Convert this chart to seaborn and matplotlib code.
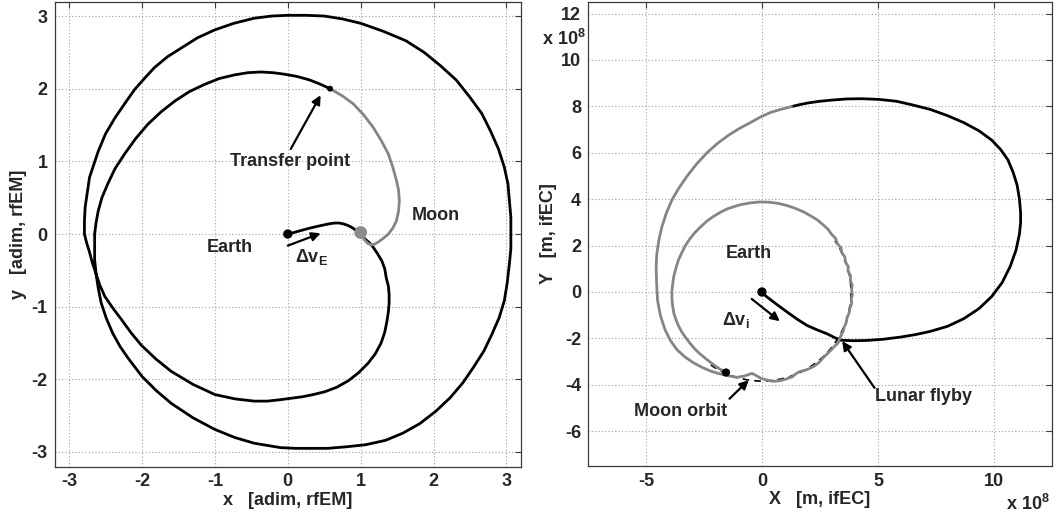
import matplotlib
matplotlib.use("Agg")
import matplotlib.pyplot as plt
from matplotlib.patches import Arc
import seaborn as sns
import pandas as pd

# ---------------- rotating Earth-Moon frame (adimensional) ----------------
# Earth departure spiral up to the transfer point
ROT_BLACK_X = [0.00, 0.08, 0.17, 0.26, 0.36, 0.45, 0.54, 0.63, 0.70, 0.76, 0.82, 0.88, 0.93,
               0.97, 1.02, 1.06, 1.12, 1.17, 1.23, 1.29, 1.33, 1.35, 1.38, 1.39, 1.39, 1.38,
               1.36, 1.33, 1.28, 1.20, 1.10, 0.97, 0.83, 0.67, 0.51, 0.35, 0.20, 0.05, -0.10,
               -0.28, -0.46, -0.72, -1.00, -1.30, -1.60, -1.81, -2.01, -2.15, -2.28, -2.40,
               -2.51, -2.58, -2.63, -2.68, -2.72, -2.76, -2.79, -2.79, -2.78, -2.72, -2.60,
               -2.50, -2.37, -2.22, -2.10, -1.95, -1.83, -1.65, -1.46, -1.24, -1.00, -0.74,
               -0.46, -0.22, 0.00, 0.25, 0.50, 0.75, 1.00, 1.31, 1.62, 1.87, 2.09, 2.31, 2.50,
               2.66, 2.78, 2.89, 2.97, 3.02, 3.04, 3.06, 3.06, 3.06, 3.04, 3.01, 2.97, 2.90,
               2.80, 2.69, 2.55, 2.40, 2.23, 2.03, 1.81, 1.58, 1.34, 1.07, 0.79, 0.54, 0.30,
               0.10, -0.10, -0.46, -0.73, -1.00, -1.30, -1.60, -1.80, -2.00, -2.19, -2.30,
               -2.40, -2.49, -2.56, -2.60, -2.63, -2.65, -2.65, -2.65, -2.63, -2.60, -2.55,
               -2.47, -2.37, -2.24, -2.09, -1.92, -1.74, -1.55, -1.35, -1.14, -0.94, -0.73,
               -0.55, -0.37, -0.20, -0.05, 0.12, 0.30, 0.45, 0.58]
ROT_BLACK_Y = [0.00, 0.02, 0.045, 0.07, 0.095, 0.115, 0.135, 0.15, 0.152, 0.14, 0.12, 0.09,
               0.055, 0.02, -0.025, -0.07, -0.12, -0.18, -0.27, -0.37, -0.48, -0.60, -0.72,
               -0.83, -0.95, -1.07, -1.20, -1.35, -1.50, -1.65, -1.78, -1.91, -2.02, -2.11,
               -2.17, -2.21, -2.24, -2.26, -2.28, -2.30, -2.30, -2.27, -2.21, -2.07, -1.89,
               -1.72, -1.53, -1.36, -1.18, -1.02, -0.86, -0.70, -0.55, -0.40, -0.25, -0.12,
               0.00, 0.18, 0.37, 0.78, 1.14, 1.38, 1.60, 1.82, 1.99, 2.16, 2.29, 2.44, 2.56,
               2.70, 2.81, 2.90, 2.97, 3.00, 3.01, 3.01, 3.00, 2.96, 2.90, 2.79, 2.66, 2.50,
               2.32, 2.12, 1.88, 1.66, 1.42, 1.17, 0.92, 0.69, 0.46, 0.23, 0.00, -0.20, -0.41,
               -0.67, -0.92, -1.15, -1.38, -1.61, -1.83, -2.05, -2.25, -2.44, -2.61, -2.74,
               -2.84, -2.90, -2.93, -2.95, -2.95, -2.95, -2.94, -2.88, -2.80, -2.69, -2.53,
               -2.33, -2.16, -1.96, -1.71, -1.55, -1.37, -1.16, -0.95, -0.75, -0.55, -0.35,
               -0.20, 0.00, 0.16, 0.32, 0.50, 0.69, 0.90, 1.10, 1.31, 1.51, 1.68, 1.83, 1.96,
               2.06, 2.14, 2.19, 2.22, 2.23, 2.22, 2.20, 2.17, 2.12, 2.06, 2.00]
# Capture leg from the transfer point to the Moon
ROT_GRAY_X = [0.58, 0.75, 0.90, 1.04, 1.17, 1.28, 1.38, 1.44, 1.49, 1.52, 1.53, 1.52, 1.49,
              1.44, 1.38, 1.31, 1.24, 1.19, 1.15, 1.10, 1.06, 1.01]
ROT_GRAY_Y = [2.00, 1.90, 1.79, 1.64, 1.47, 1.29, 1.10, 0.92, 0.74, 0.60, 0.46, 0.32, 0.18,
              0.08, 0.00, -0.06, -0.11, -0.14, -0.15, -0.13, -0.09, -0.02]
ROT_EARTH = (0.0, 0.0)
ROT_MOON = (1.0, 0.02)
ROT_TRANSFER = (0.58, 2.0)
ROT_TICKS = [-3, -2, -1, 0, 1, 2, 3]

# ---------------- Earth-centred inertial frame (units of 1e8 m) ----------------
IN_BLACK_X = [0.00, 0.10, 0.25, 0.50, 0.78, 1.08, 1.50, 1.94, 2.37, 2.80, 3.10, 3.38, 3.90,
              4.50, 5.20, 6.00, 6.60, 7.25, 8.00, 8.70, 9.35, 9.90, 10.35, 10.70, 10.95, 11.10,
              11.15, 11.15, 11.10, 11.00, 10.83, 10.60, 10.28, 9.90, 9.35, 8.70, 8.00, 7.25,
              6.50, 5.80, 5.05, 4.30, 3.65, 3.00, 2.50, 2.00, 1.60, 1.28]
IN_BLACK_Y = [0.00, -0.12, -0.24, -0.43, -0.64, -0.86, -1.16, -1.44, -1.63, -1.80, -1.95,
              -2.08, -2.10, -2.09, -2.04, -1.94, -1.84, -1.70, -1.48, -1.15, -0.72, -0.20,
              0.40, 1.10, 1.80, 2.50, 3.00, 3.40, 4.00, 4.60, 5.15, 5.70, 6.15, 6.55, 6.95,
              7.30, 7.60, 7.87, 8.06, 8.22, 8.30, 8.33, 8.32, 8.27, 8.22, 8.15, 8.07, 7.99]
IN_GRAY_X = [1.28, 0.85, 0.40, -0.05, -0.50, -0.97, -1.45, -1.92, -2.37, -2.83, -3.23, -3.58,
             -3.88, -4.12, -4.31, -4.44, -4.53, -4.56, -4.55, -4.53, -4.50, -4.38, -4.18,
             -3.95, -3.67, -3.32, -2.94, -2.58, -2.21, -1.85, -1.51, -1.08, -0.75, -0.55,
             -0.43, -0.25, -0.05, 0.22, 0.50, 0.80, 1.05, 1.30, 1.50, 1.65, 1.85, 2.05, 2.25,
             2.45, 2.62, 2.80, 2.98, 3.12, 3.28, 3.35, 3.42, 3.50, 3.55, 3.64, 3.67, 3.76,
             3.79, 3.87, 3.85, 3.90, 3.86, 3.89, 3.81, 3.82, 3.71, 3.72, 3.59, 3.58, 3.44,
             3.41, 3.24, 3.18, 2.99, 2.85, 2.63, 2.40, 2.10, 1.80, 1.45, 1.10, 0.70, 0.30,
             -0.10, -0.50, -0.90, -1.20, -1.50, -1.80, -2.10, -2.38, -2.65, -2.90, -3.10,
             -3.30, -3.45, -3.60, -3.70, -3.79, -3.84, -3.88, -3.88, -3.85, -3.80, -3.71,
             -3.60, -3.47, -3.30, -3.11, -2.90, -2.68, -2.45, -2.22, -2.00, -1.78, -1.55]
IN_GRAY_Y = [7.99, 7.88, 7.75, 7.55, 7.30, 7.05, 6.75, 6.40, 6.00, 5.50, 4.99, 4.48, 3.97,
             3.40, 2.82, 2.25, 1.66, 1.15, 0.65, 0.15, -0.36, -1.00, -1.62, -2.08, -2.48,
             -2.80, -3.06, -3.25, -3.41, -3.52, -3.60, -3.68, -3.62, -3.55, -3.51, -3.60,
             -3.72, -3.80, -3.85, -3.82, -3.75, -3.66, -3.50, -3.42, -3.38, -3.30, -3.20,
             -3.05, -2.85, -2.68, -2.50, -2.35, -2.20, -2.00, -1.85, -1.70, -1.50, -1.30,
             -1.10, -0.90, -0.70, -0.50, -0.30, -0.10, 0.10, 0.30, 0.50, 0.70, 0.90, 1.10,
             1.30, 1.50, 1.70, 1.90, 2.10, 2.30, 2.50, 2.70, 2.90, 3.10, 3.28, 3.45, 3.60,
             3.72, 3.82, 3.87, 3.88, 3.84, 3.77, 3.68, 3.58, 3.43, 3.25, 3.05, 2.80, 2.55,
             2.30, 2.00, 1.70, 1.38, 1.05, 0.72, 0.40, 0.05, -0.30, -0.60, -0.90, -1.18,
             -1.45, -1.70, -1.95, -2.20, -2.45, -2.66, -2.85, -3.03, -3.20, -3.34, -3.47]
IN_EARTH = (0.0, 0.0)
IN_ARRIVAL = (-1.55, -3.47)
MOON_ORBIT_RADIUS = 3.84
MOON_ORBIT_ARC_DEG = (-125, 35)
IN_XTICKS = [-5, 0, 5, 10]
IN_YTICKS = [-6, -4, -2, 0, 2, 4, 6, 8, 10, 12]

sns.set_theme(style="white")
plt.rcParams["font.family"] = ["Liberation Sans", "DejaVu Sans"]
plt.rcParams["font.weight"] = "bold"
plt.rcParams["axes.unicode_minus"] = False
plt.rcParams["mathtext.fontset"] = "custom"
plt.rcParams["mathtext.rm"] = "Liberation Sans:bold"
plt.rcParams["mathtext.default"] = "rm"

BLACK = "#000000"
GRAY = "#858585"
LW = 2.0
FS = 13

fig = plt.figure(figsize=(10.55, 5.18), dpi=100)
ax1 = fig.add_axes([0.0517, 0.0994, 0.4422, 0.8977])
ax2 = fig.add_axes([0.5573, 0.1004, 0.4398, 0.8958])


def style_axes(ax):
    ax.grid(True, linestyle=(0, (1, 2)), color="#a0a0a0", linewidth=0.8)
    for sp in ax.spines.values():
        sp.set_color("#3a3a3a")
        sp.set_linewidth(0.9)
    ax.tick_params(direction="in", length=4, width=0.8, color="#3a3a3a",
                   top=True, right=True, labelsize=FS, pad=5)
    for lab in ax.get_xticklabels() + ax.get_yticklabels():
        lab.set_fontweight("bold")


def path(ax, xs, ys, color, lw):
    df = pd.DataFrame({"x": xs, "y": ys})
    sns.lineplot(data=df, x="x", y="y", sort=False, estimator=None, color=color,
                 linewidth=lw, ax=ax, zorder=3)
    ax.lines[-1].set_solid_joinstyle("round")


arrow = dict(arrowstyle="-|>", color="black", lw=1.6, mutation_scale=13, shrinkA=0, shrinkB=0)
tkw = dict(fontsize=FS, fontweight="bold", ha="center", va="center")

# ---------- rotating frame ----------
path(ax1, ROT_BLACK_X, ROT_BLACK_Y, BLACK, LW)
path(ax1, ROT_GRAY_X, ROT_GRAY_Y, GRAY, LW)
sns.scatterplot(x=[ROT_MOON[0]], y=[ROT_MOON[1]], color="#8c8c8c", s=85, ax=ax1,
                edgecolor="none", zorder=4)
sns.scatterplot(x=[ROT_EARTH[0]], y=[ROT_EARTH[1]], color=BLACK, s=45, ax=ax1,
                edgecolor="none", zorder=5)
sns.scatterplot(x=[ROT_TRANSFER[0]], y=[ROT_TRANSFER[1]], color=BLACK, s=18, ax=ax1,
                edgecolor="none", zorder=5)
ax1.annotate("", xy=(0.45, 1.91), xytext=(0.04, 1.17), arrowprops=arrow)
ax1.text(0.03, 1.0, "Transfer point", **tkw)
ax1.annotate("", xy=(0.45, 0.01), xytext=(0.0, -0.16), arrowprops=arrow)
ax1.text(0.33, -0.31, r"$\Delta$v$_E$", **tkw)
ax1.text(-0.80, -0.18, "Earth", **tkw)
ax1.text(2.03, 0.25, "Moon", **tkw)

ax1.set_xlim(-3.2, 3.2)
ax1.set_ylim(-3.2, 3.2)
ax1.set_xticks(ROT_TICKS)
ax1.set_yticks(ROT_TICKS)
ax1.set_xlabel("x   [adim, rfEM]", fontsize=FS, fontweight="bold", labelpad=1)
ax1.set_ylabel("y   [adim, rfEM]", fontsize=FS, fontweight="bold", labelpad=3)
style_axes(ax1)

# ---------- inertial frame ----------
ax2.add_patch(Arc(IN_EARTH, 2 * MOON_ORBIT_RADIUS, 2 * MOON_ORBIT_RADIUS,
                  theta1=MOON_ORBIT_ARC_DEG[0], theta2=MOON_ORBIT_ARC_DEG[1],
                  edgecolor=BLACK, linestyle=(0, (4, 3)), linewidth=1.2, zorder=2))
path(ax2, IN_BLACK_X, IN_BLACK_Y, BLACK, LW)
path(ax2, IN_GRAY_X, IN_GRAY_Y, GRAY, LW)
sns.scatterplot(x=[IN_EARTH[0]], y=[IN_EARTH[1]], color=BLACK, s=45, ax=ax2,
                edgecolor="none", zorder=5)
sns.scatterplot(x=[IN_ARRIVAL[0]], y=[IN_ARRIVAL[1]], color=BLACK, s=35, ax=ax2,
                edgecolor="none", zorder=5)
ax2.annotate("", xy=(0.77, -1.26), xytext=(-0.44, -0.30), arrowprops=arrow)
ax2.text(-1.12, -1.2, r"$\Delta$v$_i$", **tkw)
ax2.text(-0.57, 1.65, "Earth", **tkw)
ax2.annotate("", xy=(3.46, -2.12), xytext=(4.85, -4.13), arrowprops=arrow)
ax2.text(6.96, -4.52, "Lunar flyby", **tkw)
ax2.annotate("", xy=(-0.57, -3.80), xytext=(-1.40, -4.60), arrowprops=arrow)
ax2.text(-3.5, -5.17, "Moon orbit", **tkw)

ax2.set_xlim(-7.5, 12.5)
ax2.set_ylim(-7.5, 12.5)
ax2.set_xticks(IN_XTICKS)
ax2.set_yticks(IN_YTICKS)
ax2.set_xlabel("X   [m, ifEC]", fontsize=FS, fontweight="bold", labelpad=1)
ax2.set_ylabel("Y   [m, ifEC]", fontsize=FS, fontweight="bold", labelpad=3)
style_axes(ax2)
ax2.text(-0.005, 0.907, r"x 10$^8$", transform=ax2.transAxes, fontsize=FS,
         fontweight="bold", ha="right", va="baseline")
ax2.text(0.995, -0.095, r"x 10$^8$", transform=ax2.transAxes, fontsize=FS,
         fontweight="bold", ha="right", va="baseline")

fig.savefig("out.png", dpi=100)
